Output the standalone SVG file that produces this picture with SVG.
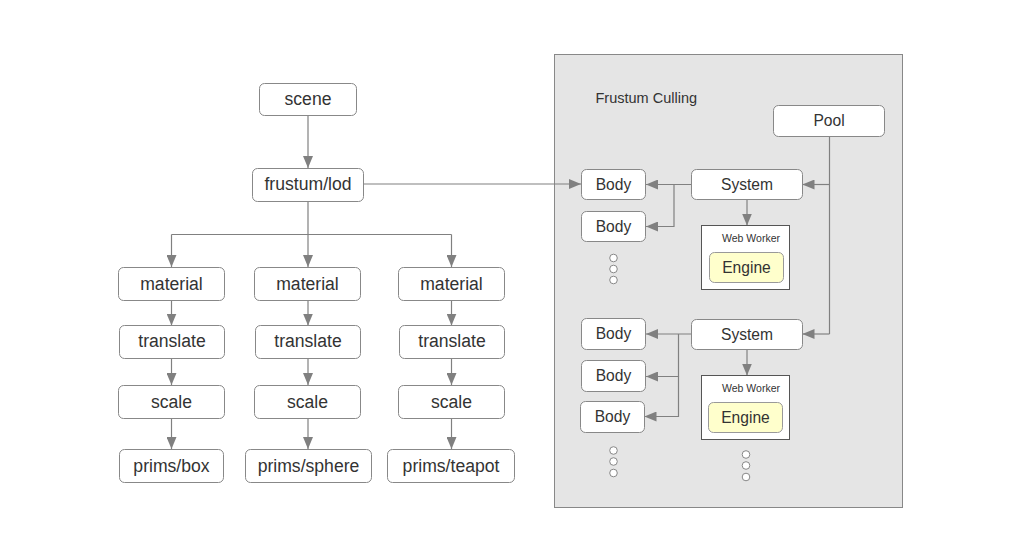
<svg xmlns="http://www.w3.org/2000/svg" width="1017" height="557" viewBox="0 0 1017 557">
<style>
.n rect{fill:#fff;stroke:#888;stroke-width:1}
.t{font-family:"Liberation Sans",Arial,sans-serif;fill:#333;text-anchor:middle}
.L{font-size:17.6px}
.R{font-size:15.6px}
.c{fill:none;stroke:#808080;stroke-width:1.2}
.a{marker-end:url(#ah)}
.dot{fill:#fff;stroke:#888;stroke-width:1}
</style>
<defs>
<marker id="ah" viewBox="0 0 12 10" refX="12" refY="5" markerWidth="12" markerHeight="10" markerUnits="userSpaceOnUse" orient="auto">
<path d="M0,0 L12,5 L0,10 Z" fill="#808080"/>
</marker>
</defs>
<rect width="1017" height="557" fill="#fff"/>
<g id="container">
<rect x="554.5" y="54.5" width="348" height="453" fill="#e5e5e5" stroke="#888" stroke-width="1"/>
<text x="595.5" y="103" style="font-family:'Liberation Sans',Arial,sans-serif;font-size:14.5px;fill:#333">Frustum Culling</text>
</g>
<g id="connectors">
<path class="c a" d="M308,115.5 V168"/>
<path class="c a" d="M363.5,184 H581"/>
<path class="c" d="M308,201.5 V234.5 M171.5,234.5 H451.5"/>
<path class="c a" d="M171.5,234.5 V267"/>
<path class="c a" d="M308,234.5 V267"/>
<path class="c a" d="M451.5,234.5 V267"/>
<path class="c a" d="M171.5,300.5 V325.5"/>
<path class="c a" d="M308,300.5 V325.5"/>
<path class="c a" d="M451.5,300.5 V325.5"/>
<path class="c a" d="M171.5,358.5 V385"/>
<path class="c a" d="M308,358.5 V385"/>
<path class="c a" d="M451.5,358.5 V385"/>
<path class="c a" d="M171.5,418.5 V449"/>
<path class="c a" d="M308,418.5 V449"/>
<path class="c a" d="M451.5,418.5 V449"/>
<path class="c" d="M829.5,136.5 V334"/>
<path class="c a" d="M829.5,184.5 H802.5"/>
<path class="c a" d="M829.5,334 H802.5"/>
<path class="c a" d="M692,184.5 H646"/>
<path class="c a" d="M674,184.5 V226.5 H646"/>
<path class="c a" d="M747,199.5 V225.5"/>
<path class="c a" d="M692,334 H646"/>
<path class="c a" d="M678.5,334 V376.5 H646"/>
<path class="c a" d="M678.5,376.5 V416.5 H644.5"/>
<path class="c a" d="M747,349.5 V375.5"/>
</g>
<g id="scene" class="n"><rect x="259.5" y="83.5" width="97" height="32" rx="5"/><text class="t L" x="308" y="104.5">scene</text></g>
<g id="frustum-lod" class="n"><rect x="252.5" y="168.5" width="111" height="33" rx="5"/><text class="t L" x="308" y="190">frustum/lod</text></g>
<g id="material1" class="n"><rect x="118.5" y="267.5" width="106" height="33" rx="5"/><text class="t L" x="171.5" y="289.5">material</text></g>
<g id="material2" class="n"><rect x="254.5" y="267.5" width="106" height="33" rx="5"/><text class="t L" x="307.5" y="289.5">material</text></g>
<g id="material3" class="n"><rect x="398.5" y="267.5" width="106" height="33" rx="5"/><text class="t L" x="451.5" y="289.5">material</text></g>
<g id="translate1" class="n"><rect x="119.5" y="325.5" width="105" height="33" rx="5"/><text class="t L" x="172" y="346.5">translate</text></g>
<g id="translate2" class="n"><rect x="255.5" y="325.5" width="105" height="33" rx="5"/><text class="t L" x="308" y="346.5">translate</text></g>
<g id="translate3" class="n"><rect x="399.5" y="325.5" width="105" height="33" rx="5"/><text class="t L" x="452" y="346.5">translate</text></g>
<g id="scale1" class="n"><rect x="118.5" y="385.5" width="106" height="33" rx="5"/><text class="t L" x="171.5" y="407.5">scale</text></g>
<g id="scale2" class="n"><rect x="254.5" y="385.5" width="106" height="33" rx="5"/><text class="t L" x="307.5" y="407.5">scale</text></g>
<g id="scale3" class="n"><rect x="398.5" y="385.5" width="106" height="33" rx="5"/><text class="t L" x="451.5" y="407.5">scale</text></g>
<g id="prims-box" class="n"><rect x="119.5" y="449.5" width="104" height="33" rx="5"/><text class="t L" x="171.5" y="471.5">prims/box</text></g>
<g id="prims-sphere" class="n"><rect x="245.5" y="449.5" width="126" height="33" rx="5"/><text class="t L" x="308.5" y="471.5">prims/sphere</text></g>
<g id="prims-teapot" class="n"><rect x="387.5" y="449.5" width="127" height="33" rx="5"/><text class="t L" x="451" y="471.5">prims/teapot</text></g>
<g id="pool" class="n"><rect x="773.5" y="105.5" width="111" height="31" rx="5"/><text class="t R" x="829" y="126">Pool</text></g>
<g id="system1" class="n"><rect x="691.5" y="169.5" width="111" height="30" rx="5"/><text class="t R" x="747" y="190">System</text></g>
<g id="body1" class="n"><rect x="581.5" y="169.5" width="64" height="30" rx="5"/><text class="t R" x="613.5" y="190">Body</text></g>
<g id="body2" class="n"><rect x="581.5" y="211.5" width="64" height="30" rx="5"/><text class="t R" x="613.5" y="231.5">Body</text></g>
<g id="webworker1"><rect x="701.5" y="225.5" width="88" height="64" fill="#fff" stroke="#555" stroke-width="1"/><text class="t" x="751" y="242" style="font-size:10.5px">Web Worker</text>
<rect x="709.5" y="252.5" width="74" height="30" rx="5" fill="#ffffcc" stroke="#999" stroke-width="1"/><text class="t R" x="746.5" y="272.5">Engine</text></g>
<g id="dots1"><circle class="dot" cx="613.5" cy="258" r="3.8"/><circle class="dot" cx="613.5" cy="269" r="3.8"/><circle class="dot" cx="613.5" cy="280" r="3.8"/></g>
<g id="system2" class="n"><rect x="691.5" y="319.5" width="111" height="30" rx="5"/><text class="t R" x="747" y="339.5">System</text></g>
<g id="body3" class="n"><rect x="581.5" y="318.5" width="64" height="31" rx="5"/><text class="t R" x="613.5" y="339">Body</text></g>
<g id="body4" class="n"><rect x="581.5" y="360.5" width="64" height="31" rx="5"/><text class="t R" x="613.5" y="381">Body</text></g>
<g id="body5" class="n"><rect x="580.5" y="401.5" width="64" height="31" rx="5"/><text class="t R" x="612.5" y="422">Body</text></g>
<g id="webworker2"><rect x="701.5" y="375.5" width="88" height="64" fill="#fff" stroke="#555" stroke-width="1"/><text class="t" x="751" y="392" style="font-size:10.5px">Web Worker</text>
<rect x="708.5" y="402.5" width="74" height="30" rx="5" fill="#ffffcc" stroke="#999" stroke-width="1"/><text class="t R" x="745.5" y="422.5">Engine</text></g>
<g id="dots2"><circle class="dot" cx="613.5" cy="450.5" r="3.8"/><circle class="dot" cx="613.5" cy="461.5" r="3.8"/><circle class="dot" cx="613.5" cy="473" r="3.8"/></g>
<g id="dots3"><circle class="dot" cx="746" cy="454.5" r="3.8"/><circle class="dot" cx="746" cy="465.5" r="3.8"/><circle class="dot" cx="746" cy="477" r="3.8"/></g>
</svg>
